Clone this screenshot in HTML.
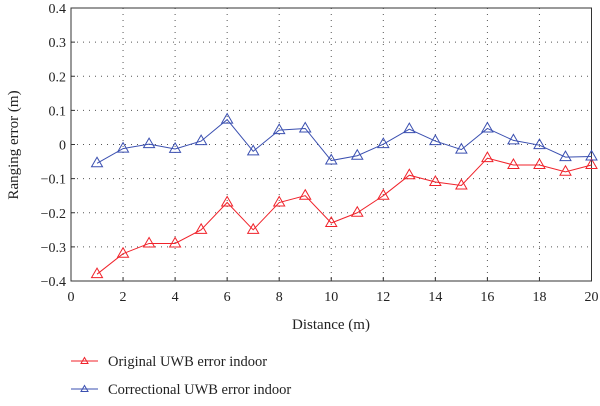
<!DOCTYPE html>
<html><head><meta charset="utf-8"><style>
body{margin:0;background:#fff;}
svg text{font-family:"Liberation Serif",serif;fill:#222;}
</style></head><body>
<svg id="chart" width="600" height="401" viewBox="0 0 600 401">
<g id="grid"></g>
<rect x="71" y="8" width="520.5" height="273" fill="none" stroke="#333" stroke-width="1"/>
<g id="axes"></g>
<g id="series"></g>
<text x="331" y="329" font-size="15" text-anchor="middle">Distance (m)</text>
<text transform="translate(18,145) rotate(-90)" font-size="15" text-anchor="middle">Ranging error (m)</text>
<g>
<g>
<line x1="71" y1="361" x2="98" y2="361" stroke="#f0222a" stroke-width="1"/>
<path d="M84.5 357.5 L88 363.5 L81 363.5 Z" fill="none" stroke="#f0222a"/>
<text x="108" y="366" font-size="14.5">Original UWB error indoor</text></g>
<g>
<line x1="71" y1="389" x2="98" y2="389" stroke="#3a4fb0" stroke-width="1"/>
<path d="M84.5 385.5 L88 391.5 L81 391.5 Z" fill="none" stroke="#3a4fb0"/>
<text x="108" y="394" font-size="14.5">Correctional UWB error indoor</text></g>
</g>
</svg>
<script>
const distances=[1,2,3,4,5,6,7,8,9,10,11,12,13,14,15,16,17,18,19,20];
const originalErr=[-0.38,-0.32,-0.29,-0.29,-0.25,-0.17,-0.25,-0.17,-0.15,-0.23,-0.20,-0.15,-0.09,-0.11,-0.12,-0.04,-0.06,-0.06,-0.08,-0.06];
const correctedErr=[-0.055,-0.012,0.001,-0.013,0.01,0.073,-0.02,0.042,0.047,-0.047,-0.033,0.001,0.045,0.01,-0.015,0.047,0.012,-0.002,-0.037,-0.035];
const xTicks=[0,2,4,6,8,10,12,14,16,18,20];
const yTicks=[0.4,0.3,0.2,0.1,0,-0.1,-0.2,-0.3,-0.4];
const X0=71,X1=591.5,Y0=281,Y1=8;
const xs=v=>X0+(v-0)/20*(X1-X0);
const ys=v=>Y0-(v+0.4)/0.8*(Y0-Y1);
const NS="http://www.w3.org/2000/svg";
function mk(tag,attrs,parent){const e=document.createElementNS(NS,tag);for(const k in attrs)e.setAttribute(k,attrs[k]);parent.appendChild(e);return e;}
const grid=document.getElementById('grid'),axes=document.getElementById('axes'),ser=document.getElementById('series');
xTicks.forEach(t=>{
  const x=xs(t);
  if(t>0&&t<20){const g=mk('line',{x1:x,x2:x,y1:Y1,y2:Y0,stroke:'#555','stroke-width':1,'stroke-dasharray':'1 5'},grid);
  
  }
  const tk=mk('line',{x1:x,x2:x,y1:Y0,y2:Y0-4,stroke:'#333'},axes);
  
  
  const lb=mk('text',{x:x,y:Y0+20,'font-size':14,'text-anchor':'middle'},axes);
  lb.textContent=String(t);
  
  
});
yTicks.forEach(t=>{
  const y=ys(t);
  if(t>-0.4&&t<0.4){const g=mk('line',{x1:X0,x2:X1,y1:y,y2:y,stroke:'#555','stroke-width':1,'stroke-dasharray':'1 5'},grid);
  
  }
  const tk=mk('line',{x1:X0,x2:X0+4,y1:y,y2:y,stroke:'#333'},axes);
  
  
  const lb=mk('text',{x:X0-5,y:y+5,'font-size':14,'text-anchor':'end'},axes);
  lb.textContent=t===0?'0':(t<0?'\u2212'+Math.abs(t).toFixed(1):t.toFixed(1));
  
  
});
function drawSeries(vals,color,name){
  const pts=distances.map((d,i)=>xs(d)+','+ys(vals[i])).join(' ');
  const pl=mk('polyline',{points:pts,fill:'none',stroke:color,'stroke-width':1},ser);
  
  
  distances.forEach((d,i)=>{
    const x=xs(d),y=ys(vals[i]);
    const m=mk('path',{d:`M${x} ${y-6} L${x+5.5} ${y+3.5} L${x-5.5} ${y+3.5} Z`,fill:'none',stroke:color,'stroke-width':1},ser);
    
    
  });
}
drawSeries(originalErr,'#f0222a','original');
drawSeries(correctedErr,'#3a4fb0','correctional');
</script>
</body></html>
